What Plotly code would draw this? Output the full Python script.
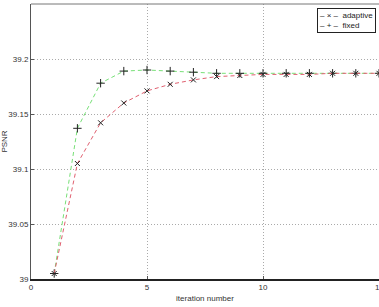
import plotly.graph_objects as go

iterations = list(range(1, 16))
adaptive = [39.005, 39.105, 39.142, 39.160, 39.171, 39.177, 39.181, 39.184,
            39.185, 39.186, 39.186, 39.186, 39.187, 39.187, 39.187]
fixed = [39.005, 39.137, 39.178, 39.189, 39.190, 39.189, 39.188, 39.187,
         39.187, 39.187, 39.187, 39.187, 39.187, 39.187, 39.187]
x_ticks = [0, 5, 10]
y_ticks = [39, 39.05, 39.1, 39.15, 39.2, 39.25]
y_ticktext = ["39", "39.05", "39.1", "39.15", "39.2", "39.25"]
series_names = ["adaptive", "fixed"]

txt = "#333"
font = dict(family="Liberation Sans, Arial, sans-serif", size=8, color=txt)

fig = go.Figure()
fig.add_trace(go.Scatter(x=iterations, y=fixed, mode="lines+markers", name=series_names[1],
                         showlegend=False,
                         line=dict(color="#77e077", dash="4px,3px", width=1),
                         marker=dict(symbol="cross-thin", size=6, line=dict(color="#222", width=1))))
fig.add_trace(go.Scatter(x=iterations, y=adaptive, mode="lines+markers", name=series_names[0],
                         showlegend=False,
                         line=dict(color="#e06070", dash="4px,3px", width=1),
                         marker=dict(symbol="x-thin", size=5, line=dict(color="#222", width=1))))

fig.update_layout(
    width=379, height=307,
    margin=dict(l=31, r=0, t=4, b=28),
    paper_bgcolor="white", plot_bgcolor="white",
    font=font,
    showlegend=False,
    xaxis=dict(range=[0, 15], tickvals=x_ticks, showgrid=True,
               gridcolor="#aaa", griddash="1px,2px", gridwidth=1,
               showline=True, linecolor="#222", linewidth=1.5, mirror=False,
               ticks="inside", ticklen=3, tickcolor="#555", zeroline=False,
               tickfont=dict(size=8, color=txt),
               title=dict(text="iteration number", standoff=4, font=dict(size=8, color=txt))),
    yaxis=dict(range=[39, 39.25], tickvals=y_ticks, ticktext=y_ticktext,
               showgrid=True, gridcolor="#aaa", griddash="1px,2px", gridwidth=1,
               showline=True, linecolor="#555", linewidth=1, mirror=False,
               ticks="inside", ticklen=3, tickcolor="#555", zeroline=False,
               tickfont=dict(size=8, color=txt),
               title=dict(text="PSNR", standoff=2, font=dict(size=8, color=txt))),
)
fig.add_shape(type="line", xref="paper", yref="paper", x0=0, x1=1, y0=1, y1=1,
              line=dict(color="#777", width=1))
# right-most tick label, cut at the window edge as in the reference
fig.add_annotation(x=15, y=0, xref="x", yref="paper", text="15", showarrow=False,
                   yanchor="top", yshift=-2, font=dict(size=8, color=txt))
# compact legend box
fig.add_annotation(x=0.992, y=0.985, xref="paper", yref="paper", xanchor="right", yanchor="top",
                   showarrow=False, align="left",
                   text="– × –  " + series_names[0] + "<br>– + –  " + series_names[1],
                   font=dict(size=8, color="#222"),
                   bordercolor="#222", borderwidth=1, borderpad=2, bgcolor="white")
fig.write_html("out.html")
